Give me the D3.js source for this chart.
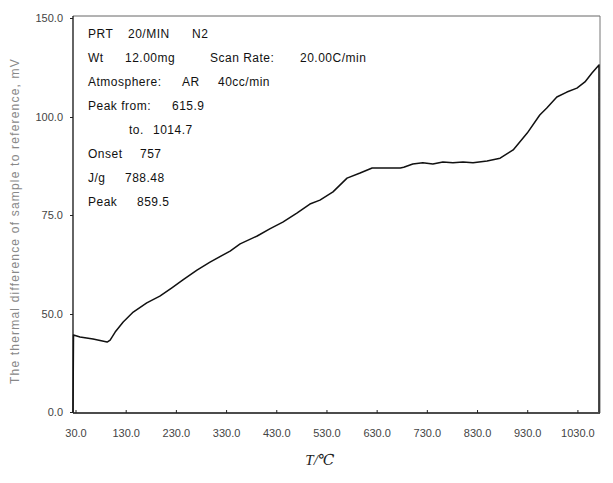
<!DOCTYPE html>
<html>
<head>
<meta charset="utf-8">
<script src="https://cdn.jsdelivr.net/npm/d3@7"></script>
<style>
    body { margin: 0; background: #fff; }
    text { font-family: "Liberation Sans", Arial, sans-serif; }
</style>
</head>
<body>
<div id="visual"></div>
<script>
// DTA trace, temperature (C) and thermal difference (mV, as labelled)
const temps = [25, 26, 39, 65, 93, 99, 109, 125, 145, 172, 198, 222, 244, 272, 298, 338, 358, 392,
    417, 443, 471, 497, 517, 543, 571, 597, 621, 647, 677, 684, 702, 722, 742, 762, 782, 802, 822,
    850, 876, 902, 930, 955, 969, 989, 1009, 1029, 1045, 1059, 1073, 1073];
const signal = [0, 39.3, 38.3, 37.2, 35.7, 36.7, 40.8, 45.9, 50.5, 52.8, 54.5, 56.6, 58.6, 61.1, 63.1,
    65.9, 67.7, 69.7, 71.5, 73.2, 75.5, 77.8, 78.8, 80.9, 84.4, 85.7, 87.0, 87.0, 87.0, 87.2, 88.0,
    88.3, 88.0, 88.5, 88.3, 88.5, 88.3, 88.8, 89.5, 91.6, 95.9, 101.0, 104.5, 110.1, 112.6, 114.6,
    117.7, 122.2, 126.3, 0];

const xTicks = [30, 130, 230, 330, 430, 530, 630, 730, 830, 930, 1030];
const yTicks = [0, 50, 75, 100, 150];

// annotation block of the instrument printout
const infoLines = [
    [["PRT", 0], ["20/MIN", 40], ["N2", 104]],
    [["Wt", 0], ["12.00mg", 37], ["Scan Rate:", 122], ["20.00C/min", 212]],
    [["Atmosphere:", 0], ["AR", 94], ["40cc/min", 130]],
    [["Peak from:", 0], ["615.9", 84]],
    [["to.", 41], ["1014.7", 65]],
    [["Onset", 0], ["757", 52]],
    [["J/g", 0], ["788.48", 37]],
    [["Peak", 0], ["859.5", 49]]
];

let width = 613, height = 483;
let plotLeft = 73, plotRight = 600, plotTop = 16, plotBottom = 413;

let svg = d3.select("#visual")
    .append("svg")
    .attr("width", width)
    .attr("height", height);

let x = d3.scaleLinear()
    .domain([25, 1075])
    .range([plotLeft, plotRight]);

// the printed axis has evenly spaced ticks with uneven labels
let y = d3.scaleLinear()
    .domain(yTicks)
    .range([412, 314, 215, 117, 18]);

// frame
svg.append("line").attr("x1", plotLeft).attr("x2", plotRight).attr("y1", plotTop).attr("y2", plotTop)
    .style("stroke", "#666").style("stroke-width", 1);
svg.append("line").attr("x1", plotRight).attr("x2", plotRight).attr("y1", plotTop).attr("y2", plotBottom)
    .style("stroke", "#777").style("stroke-width", 1);

let xAxis = d3.axisBottom(x)
    .tickValues(xTicks)
    .tickSize(-3)
    .tickPadding(16)
    .tickFormat(d3.format(".1f"));

let yAxis = d3.axisLeft(y)
    .tickValues(yTicks)
    .tickSize(3)
    .tickPadding(7)
    .tickFormat(d3.format(".1f"));

let gx = svg.append("g")
    .attr("transform", "translate(0," + plotBottom + ")")
    .call(xAxis);
gx.select(".domain").attr("d", "M" + plotLeft + ",0H" + plotRight)
    .style("stroke", "#111").style("stroke-width", 1.3);

let gy = svg.append("g")
    .attr("transform", "translate(" + plotLeft + ",0)")
    .call(yAxis);
gy.select(".domain").attr("d", "M0," + plotTop + "V" + plotBottom)
    .style("stroke", "#111").style("stroke-width", 1.3);

svg.selectAll(".tick line").style("stroke", "#222");
svg.selectAll(".tick text")
    .style("font-size", "11px")
    .style("fill", "#444");

// curve
let line = d3.line()
    .x(function (d, i) { return x(temps[i]); })
    .y(function (d) { return y(d); });

svg.append("path")
    .datum(signal)
    .attr("d", line)
    .style("fill", "none")
    .style("stroke", "#111")
    .style("stroke-width", 1.5)
    .style("stroke-linejoin", "round");

// printout text
infoLines.forEach(function (row, i) {
    row.forEach(function (cell) {
        svg.append("text")
            .attr("x", 88 + cell[1])
            .attr("y", 38 + i * 24)
            .style("font-size", "12px")
            .style("letter-spacing", "0.5px")
            .style("fill", "#111")
            .text(cell[0]);
    });
});

// axis titles
svg.append("text")
    .attr("transform", "translate(19,221) rotate(-90)")
    .attr("text-anchor", "middle")
    .style("font-size", "12px")
    .style("letter-spacing", "1.2px")
    .style("fill", "#888")
    .text("The thermal difference of sample to reference, mV");

svg.append("text")
    .attr("x", 320)
    .attr("y", 465)
    .attr("text-anchor", "middle")
    .style("font-family", "'Liberation Serif', 'DejaVu Serif', serif")
    .style("font-size", "15px")
    .style("font-style", "italic")
    .style("fill", "#222")
    .text("T/℃");
</script>
</body>
</html>
